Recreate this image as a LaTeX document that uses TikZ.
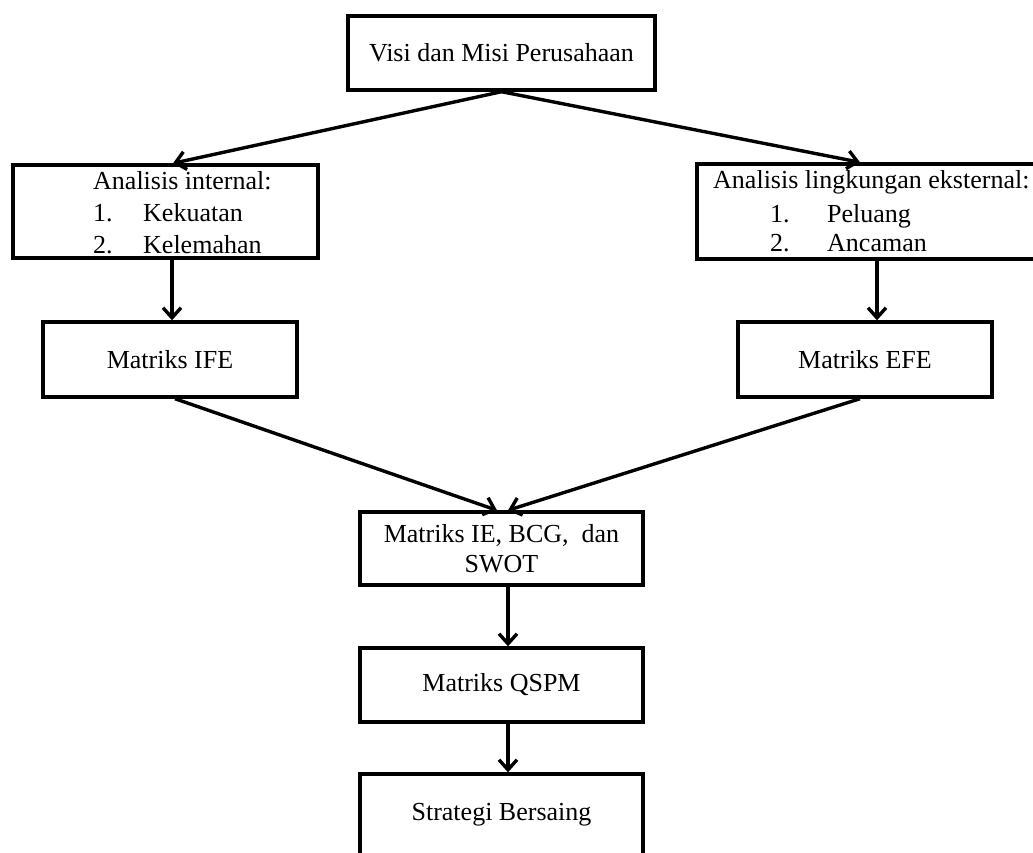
\documentclass[tikz,border=0pt]{standalone}
\usepackage{fontspec}
\setmainfont{Liberation Serif}
\usetikzlibrary{arrows.meta,calc}
\begin{document}
\begin{tikzpicture}[x=1pt,y=-1pt,
  box/.style={draw=black,line width=3.4pt,inner sep=0pt,align=center,font=\fontsize{26}{30}\selectfont},
  lbl/.style={inner sep=0pt,anchor=base west,font=\fontsize{26}{30}\selectfont},
  arr/.style={line width=3.4pt,-{Straight Barb[length=10pt,width=18pt]}}]
\useasboundingbox (0,0) rectangle (1033,852);
% boxes
\node[box,minimum width=307,minimum height=74] (b1) at (501.5,53) {Visi dan Misi Perusahaan};
\node[box,minimum width=305,minimum height=93] (b2) at (165.5,211.5) {};
\node[box,minimum width=348,minimum height=95] (b3) at (871,211.5) {};
\node[box,minimum width=254,minimum height=75] (b4) at (170,359.5) {Matriks IFE};
\node[box,minimum width=254,minimum height=75] (b5) at (865,359.5) {Matriks EFE};
\node[box,minimum width=283,minimum height=73] (b6) at (501.5,548.5) {Matriks IE, BCG,\ \ dan\\SWOT};
\node[box,minimum width=283,minimum height=74] (b7) at (501.5,685) {Matriks QSPM};
\node[box,minimum width=283,minimum height=82] (b8) at (501.5,815) {Strategi Bersaing};
% texts of the analysis boxes
\node[lbl] (t2a) at (93,189) {Analisis internal:};
\node[lbl] (t2b) at (93,221) {1.};
\node[lbl] (t2c) at (143,221) {Kekuatan};
\node[lbl] (t2d) at (93,253) {2.};
\node[lbl] (t2e) at (143,253) {Kelemahan};
\node[lbl] (t3a) at (713,188) {Analisis lingkungan eksternal:};
\node[lbl] (t3b) at (770,222) {1.};
\node[lbl] (t3c) at (827,222) {Peluang};
\node[lbl] (t3d) at (770,251) {2.};
\node[lbl] (t3e) at (827,251) {Ancaman};
% connectors
\draw[arr] (b1.south) -- ($(b2.north)+(7.5,0)$);
\draw[arr] (b1.south) -- ($(b3.north)+(-11,0)$);
\draw[arr] ($(b2.south)+(6.5,0)$) -- ($(b4.north)+(2,0)$);
\draw[arr] ($(b3.south)+(6,0)$) -- ($(b5.north)+(12,0)$);
\draw[arr] ($(b4.south)+(5,0)$) -- ($(b6.north)+(-4.5,0)$);
\draw[arr] ($(b5.south)+(-5,0)$) -- ($(b6.north)+(6.5,0)$);
\draw[arr] ($(b6.south)+(6.5,0)$) -- ($(b7.north)+(6.5,0)$);
\draw[arr] ($(b7.south)+(6.5,0)$) -- ($(b8.north)+(6.5,0)$);
\end{tikzpicture}
\end{document}
